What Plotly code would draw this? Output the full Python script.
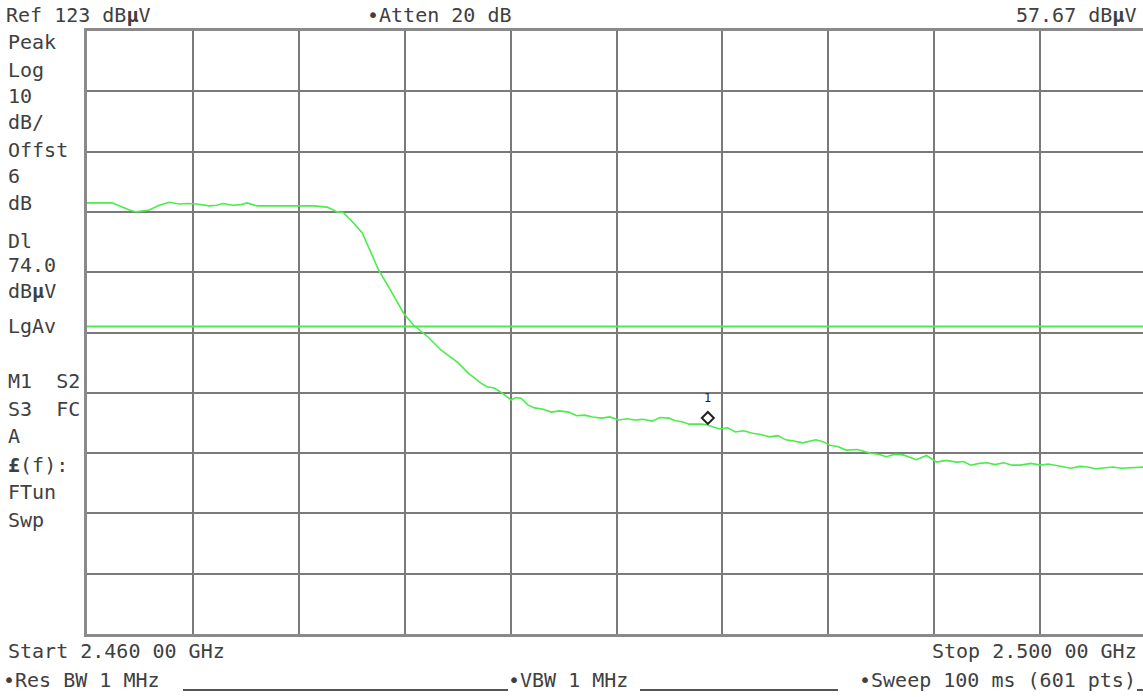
import plotly.graph_objects as go

# Swept spectrum: 2.460 - 2.500 GHz, Ref 123 dBuV, 10 dB/div
freq_mhz = [
    2460.00, 2460.50, 2460.95, 2461.33, 2461.60, 2461.86, 2462.10, 2462.35, 2462.73, 2463.11,
    2463.49, 2463.80, 2464.14, 2464.63, 2464.90, 2465.13, 2465.51, 2465.80, 2466.04, 2466.42,
    2466.90, 2467.29, 2467.90, 2468.54, 2469.07, 2469.45, 2469.68, 2470.06, 2470.40, 2470.71,
    2471.01, 2471.47, 2471.96, 2472.34, 2472.87, 2473.37, 2474.01, 2474.39, 2474.88, 2475.10,
    2475.38, 2475.70, 2476.02, 2476.20, 2476.40, 2476.65, 2476.90, 2477.20, 2477.54, 2477.85,
    2478.19, 2478.50, 2478.80, 2479.10, 2479.44, 2479.75, 2480.08, 2480.40, 2480.69, 2481.00,
    2481.34, 2481.65, 2481.98, 2482.20, 2482.48, 2482.74, 2483.23, 2483.45, 2483.88, 2484.20,
    2484.49, 2484.80, 2485.14, 2485.45, 2485.78, 2486.10, 2486.39, 2486.70, 2487.03, 2487.53,
    2487.80, 2488.06, 2488.35, 2488.67, 2489.10, 2489.58, 2489.90, 2490.19, 2490.50, 2490.83,
    2491.10, 2491.33, 2491.71, 2492.09, 2492.45, 2492.85, 2493.10, 2493.38, 2493.70, 2493.99,
    2494.30, 2494.62, 2494.95, 2495.27, 2495.65, 2496.03, 2496.30, 2496.52, 2496.85, 2497.17,
    2497.50, 2497.78, 2498.10, 2498.42, 2498.75, 2499.07, 2499.50, 2500.00,
]
level_dbuv = [
    94.5, 94.5, 94.5, 93.8, 93.3, 93.0, 93.1, 93.3, 94.1, 94.6,
    94.3, 94.4, 94.3, 94.0, 94.1, 94.4, 94.1, 94.2, 94.5, 94.0,
    94.0, 94.0, 94.0, 94.0, 93.8, 93.0, 92.9, 91.2, 89.5, 86.3,
    83.4, 80.0, 76.2, 74.2, 72.3, 70.1, 68.0, 66.3, 64.6, 64.0,
    63.8, 62.9, 61.8, 62.2, 62.1, 61.0, 60.5, 60.3, 59.8, 60.0,
    59.8, 59.2, 59.3, 59.0, 58.8, 59.0, 58.5, 58.7, 58.5, 58.6,
    58.3, 58.9, 58.8, 58.4, 58.2, 57.8, 57.8, 57.67, 57.0, 57.2,
    56.5, 56.7, 56.3, 56.1, 55.7, 55.9, 55.2, 55.0, 54.7, 55.2,
    54.9, 54.3, 54.1, 53.5, 53.6, 53.0, 52.8, 52.4, 52.8, 52.7,
    52.2, 51.9, 52.6, 51.5, 51.8, 51.5, 51.6, 51.0, 51.3, 51.4,
    51.1, 51.4, 51.0, 51.0, 51.3, 51.0, 51.2, 51.0, 50.7, 50.5,
    50.8, 50.7, 50.4, 50.5, 50.7, 50.5, 50.6, 50.7,
]

ref_level = 123.0
db_per_div = 10.0
display_line = 74.0
mkr_freq = 2483.45
mkr_level = 57.67

left_labels = ["Peak", "Log", "10", "dB/", "Offst", "6", "dB", "Dl", "74.0", "dB<b>µ</b>V",
               "LgAv", "M1  S2", "S3  FC", "A", "<b>£</b>(f):", "FTun", "Swp"]
left_label_y = [42, 70, 96, 122, 150, 176, 203, 241, 265, 291, 326, 381, 409, 436, 465, 492, 520]

# Plot area geometry in pixels (the grid runs slightly past the right edge of the page)
W_FIG, H_FIG = 1143, 697
L, T, R, B = 87, 31, 0, 63
PW, PH = W_FIG - L - R, H_FIG - T - B
X_END = 2460 + 40 * PW / 1059.0

TRACE = "#4bec4b"
GRID = "#7a7a7a"
TXT = "#404040"
FONT = "DejaVu Sans Mono"
FS = 20


def px(x):
    return (x - L) / PW


def py(y):
    return (T + PH - y) / PH


fig = go.Figure()
fig.add_trace(go.Scatter(x=freq_mhz, y=level_dbuv, mode="lines",
                         line=dict(color=TRACE, width=1.6), hoverinfo="skip"))

# display line
fig.add_shape(type="line", xref="paper", yref="y", x0=0, x1=1,
              y0=display_line, y1=display_line, line=dict(color=TRACE, width=2))

# marker 1 diamond, sitting just above the trace point
fig.add_shape(type="path", xref="x", yref="y", xsizemode="pixel", ysizemode="pixel",
              xanchor=mkr_freq, yanchor=mkr_level,
              path="M -6 7 L 0 13 L 6 7 L 0 1 Z",
              line=dict(color="#222", width=2), fillcolor="rgba(0,0,0,0)")

ann = []
ann.append(dict(x=mkr_freq, y=mkr_level, xref="x", yref="y", text="1", showarrow=False,
                yshift=27, font=dict(family=FONT, size=12, color="#222")))

for txt, yy in zip(left_labels, left_label_y):
    ann.append(dict(x=px(6), y=py(yy), text=txt, xanchor="left", yanchor="middle"))

ann.append(dict(x=px(4), y=py(15), text="Ref 123 dB<b>µ</b>V", xanchor="left", yanchor="middle"))
ann.append(dict(x=px(365), y=py(15), text="•Atten 20 dB", xanchor="left", yanchor="middle"))
ann.append(dict(x=px(1138), y=py(15), text=f"{mkr_level:.2f} dB<b>µ</b>V",
                xanchor="right", yanchor="middle"))
ann.append(dict(x=px(6), y=py(651), text="Start 2.460 00 GHz", xanchor="left", yanchor="middle"))
ann.append(dict(x=px(1139), y=py(651), text="Stop 2.500 00 GHz", xanchor="right", yanchor="middle"))
ann.append(dict(x=px(1), y=py(680), text="•Res BW 1 MHz", xanchor="left", yanchor="middle"))
ann.append(dict(x=px(506), y=py(680), text="•VBW 1 MHz", xanchor="left", yanchor="middle"))
ann.append(dict(x=px(1138), y=py(680), text="•Sweep 100 ms (601 pts)", xanchor="right", yanchor="middle"))

for a in ann:
    a.setdefault("xref", "paper")
    a.setdefault("yref", "paper")
    a.setdefault("showarrow", False)
    a.setdefault("font", dict(family=FONT, size=FS, color=TXT))

# underscores on the bottom status line
for x0, x1 in [(183, 508), (640, 838), (1137, 1143)]:
    fig.add_shape(type="line", xref="paper", yref="paper", x0=px(x0), x1=px(x1),
                  y0=py(690), y1=py(690), line=dict(color="#555", width=2))

fig.update_layout(
    width=W_FIG, height=H_FIG,
    margin=dict(l=L, r=R, t=T, b=B),
    paper_bgcolor="white", plot_bgcolor="white",
    showlegend=False,
    annotations=ann,
    xaxis=dict(range=[2460, X_END], dtick=4, tick0=2460, showticklabels=False, ticks="",
               showgrid=True, gridcolor=GRID, gridwidth=1.6, zeroline=False,
               showline=True, linecolor="#8a8a8a", linewidth=3, mirror=True, fixedrange=True),
    yaxis=dict(range=[ref_level - 10 * db_per_div, ref_level], dtick=db_per_div,
               tick0=ref_level, showticklabels=False, ticks="",
               showgrid=True, gridcolor=GRID, gridwidth=1.6, zeroline=False,
               showline=True, linecolor="#8a8a8a", linewidth=3, mirror=False, fixedrange=True),
)

fig.write_html("out.html", config={"displayModeBar": False})
